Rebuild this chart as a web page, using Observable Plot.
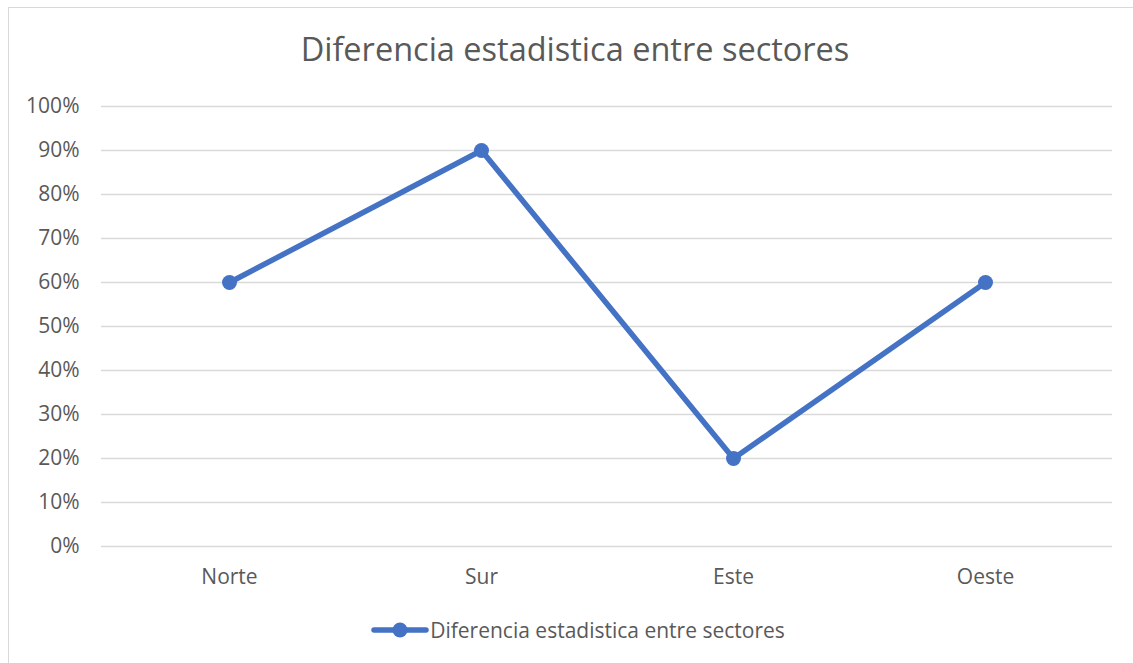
<!DOCTYPE html>
<html>
<head>
<meta charset="utf-8">
<script src="https://cdn.jsdelivr.net/npm/d3@7"></script>
<script src="https://cdn.jsdelivr.net/npm/@observablehq/plot@0.6"></script>
<style>
  html, body { margin: 0; padding: 0; background: #fff; }
  #wrap { position: relative; width: 1133px; height: 663px; overflow: hidden; font-family: "Open Sans", sans-serif; }
  #frame { position: absolute; left: 8px; top: 7px; width: 1140px; height: 680px; border: 1.5px solid #d9d9d9; box-sizing: border-box; }
  #title { position: absolute; left: 0; width: 1150px; top: 27px; text-align: center; font-size: 32.5px; color: #595959; line-height: 44px; }
  #chart { position: absolute; left: 0; top: 80px; }
  #legend { position: absolute; left: 0; width: 1155px; top: 615px; display: flex; justify-content: center; align-items: center; font-size: 21px; color: #595959; line-height: 30px; }
  #legend svg { margin-right: 0px; margin-left: 0px; }
</style>
</head>
<body>
<div id="wrap">
  <div id="frame"></div>
  <div id="title"></div>
  <div id="chart"></div>
  <div id="legend"></div>
</div>
<script>
const title = "Diferencia estadistica entre sectores";
const sectors = ["Norte", "Sur", "Este", "Oeste"];
const values = [0.60, 0.90, 0.20, 0.60];
const yTicks = [0, 0.1, 0.2, 0.3, 0.4, 0.5, 0.6, 0.7, 0.8, 0.9, 1.0];
const color = "#4472C4";

const data = sectors.map((s, i) => ({sector: s, value: values[i]}));

document.getElementById("title").textContent = title;

const chart = Plot.plot({
  width: 1133,
  height: 530,
  marginTop: 26,
  marginBottom: 64,
  marginLeft: 101,
  marginRight: 21,
  style: {fontFamily: "'Open Sans', sans-serif", fontSize: "21px", color: "#595959", background: "transparent"},
  x: {type: "point", domain: sectors, padding: 0.5, label: null},
  y: {domain: [0, 1], label: null},
  marks: [
    Plot.gridY(yTicks, {stroke: "#d9d9d9", strokeOpacity: 1, strokeWidth: 1.5}),
    Plot.axisY(yTicks, {tickFormat: d => Math.round(d * 100) + "%", tickSize: 0, tickPadding: 22, fontSize: 21, label: null}),
    Plot.axisX({tickSize: 0, tickPadding: 23, fontSize: 21, label: null}),
    Plot.line(data, {x: "sector", y: "value", stroke: color, strokeWidth: 5.5, strokeLinecap: "round", strokeLinejoin: "round"}),
    Plot.dot(data, {x: "sector", y: "value", fill: color, r: 7.5, stroke: "none"})
  ]
});
document.getElementById("chart").appendChild(chart);

const legend = document.getElementById("legend");
legend.innerHTML = `<svg width="60" height="20"><line x1="4" y1="10" x2="56" y2="10" stroke="${color}" stroke-width="5.5" stroke-linecap="round"/><circle cx="30" cy="10" r="7.5" fill="${color}"/></svg><span>${title}</span>`;
</script>
</body>
</html>
